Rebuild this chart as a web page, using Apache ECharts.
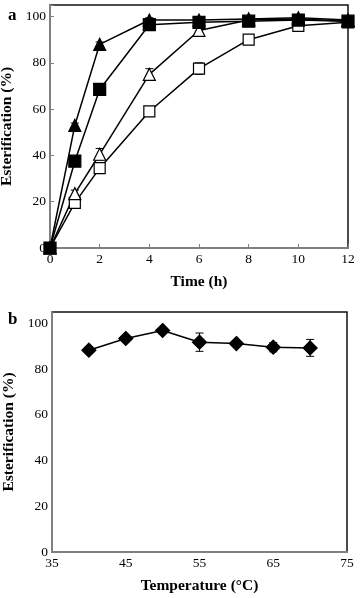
<!DOCTYPE html>
<html>
<head>
<meta charset="utf-8">
<script src="https://cdn.jsdelivr.net/npm/echarts@6/dist/echarts.min.js"></script>
<style>html,body{margin:0;padding:0;background:#fff;}#c{width:360px;height:598px;}</style>
</head>
<body>
<div id="c"></div>
<script>
// Panel a
var timeH = [0, 1, 2, 4, 6, 8, 10, 12];
var filledTri = [0, 53, 88, 98.5, 98.5, 99, 99.5, 98.5];
var filledTriErr = [0, 1, 1, 1, 1, 1, 1, 1];
var filledSq = [0, 37.5, 68.5, 96.5, 97.5, 98, 98.5, 98];
var filledSqErr = [0, 1, 1, 1, 1, 1, 1, 1];
var openTri = [0, 23.5, 40.5, 75, 94, 98.5, 99, 98];
var openTriErr = [0, 1.5, 2.5, 2.5, 1, 0.5, 0.5, 0.5];
var openSq = [0, 19.5, 34.5, 59, 77.5, 90, 96, 97.5];
var openSqErr = [0, 2, 1.5, 2, 2.5, 1.5, 1, 0.5];
// Panel b
var tempC = [40, 45, 50, 55, 60, 65, 70];
var esterB = [88.3, 93.4, 96.9, 91.8, 91.2, 89.6, 89.3];
var esterBErr = [1.5, 1, 1, 4, 1, 2, 3.7];

var FONT = "'Liberation Serif','Times New Roman',serif";

function pairs(xs, ys) { return xs.map(function (x, i) { return [x, ys[i]]; }); }
function errData(xs, ys, es) { return xs.map(function (x, i) { return [x, ys[i] - es[i], ys[i] + es[i]]; }); }

function errSeries(xi, yi, data) {
  return {
    type: 'custom', xAxisIndex: xi, yAxisIndex: yi, z: 1, silent: true,
    data: data,
    renderItem: function (params, api) {
      var x = api.value(0), lo = api.value(1), hi = api.value(2);
      var p1 = api.coord([x, lo]), p2 = api.coord([x, hi]);
      var w = 4;
      var st = { stroke: '#000', lineWidth: 1 };
      return { type: 'group', children: [
        { type: 'line', shape: { x1: p1[0], y1: p1[1], x2: p2[0], y2: p2[1] }, style: st },
        { type: 'line', shape: { x1: p1[0] - w, y1: p1[1], x2: p1[0] + w, y2: p1[1] }, style: st },
        { type: 'line', shape: { x1: p2[0] - w, y1: p2[1], x2: p2[0] + w, y2: p2[1] }, style: st }
      ] };
    }
  };
}

function lineSeries(xi, yi, data, symbol, size, fill) {
  return {
    type: 'line', xAxisIndex: xi, yAxisIndex: yi, z: 2,
    data: data, symbol: symbol, symbolSize: size, showAllSymbol: true,
    lineStyle: { color: '#000', width: 1.5 },
    itemStyle: { color: fill, borderColor: '#000', borderWidth: 1.2 },
    emphasis: { disabled: true }
  };
}

var yLabel = {
  fontFamily: FONT, fontSize: 13.5, color: '#000', margin: 4,
  formatter: function (v) { return v > 100 ? '' : String(v); }
};

var chart = echarts.init(document.getElementById('c'), null, { renderer: 'canvas' });
chart.setOption({
  animation: false,
  backgroundColor: '#fff',
  title: [
    { text: 'a', left: 3, top: 2, textStyle: { fontFamily: FONT, fontSize: 17, fontWeight: 'bold', color: '#000' } },
    { text: 'b', left: 3, top: 306, textStyle: { fontFamily: FONT, fontSize: 17, fontWeight: 'bold', color: '#000' } }
  ],
  grid: [
    { left: 50, right: 12, top: 5, bottom: 350, outerBoundsMode: 'none', containLabel: false, show: true, borderColor: '#111', borderWidth: 1.5, backgroundColor: 'transparent' },
    { left: 52, right: 13, top: 312, bottom: 46, outerBoundsMode: 'none', containLabel: false, show: true, borderColor: '#111', borderWidth: 1.5, backgroundColor: 'transparent' }
  ],
  xAxis: [
    {
      gridIndex: 0, type: 'value', min: 0, max: 12, interval: 2,
      name: 'Time (h)', nameLocation: 'middle', nameGap: 26,
      nameTextStyle: { fontFamily: FONT, fontSize: 15.5, fontWeight: 'bold', color: '#000' },
      axisLine: { lineStyle: { color: '#808080', width: 2 } },
      axisTick: { inside: true, length: 4, lineStyle: { color: '#808080', width: 1 } },
      axisLabel: { fontFamily: FONT, fontSize: 13.5, color: '#000', margin: 4 },
      splitLine: { show: false }
    },
    {
      gridIndex: 1, type: 'value', min: 35, max: 75, interval: 10,
      name: 'Temperature (\u00B0C)', nameLocation: 'middle', nameGap: 26,
      nameTextStyle: { fontFamily: FONT, fontSize: 15.5, fontWeight: 'bold', color: '#000' },
      axisLine: { lineStyle: { color: '#808080', width: 2 } },
      axisTick: { show: false },
      axisLabel: { fontFamily: FONT, fontSize: 13.5, color: '#000', margin: 4 },
      splitLine: { show: false }
    }
  ],
  yAxis: [
    {
      gridIndex: 0, type: 'value', min: 0, max: 105, interval: 20,
      name: 'Esterification (%)', nameLocation: 'middle', nameGap: 32,
      nameTextStyle: { fontFamily: FONT, fontSize: 15.5, fontWeight: 'bold', color: '#000' },
      axisLine: { show: true, lineStyle: { color: '#808080', width: 2 } },
      axisTick: { show: true, inside: true, length: 4, lineStyle: { color: '#808080', width: 1 } },
      axisLabel: yLabel,
      splitLine: { show: false }
    },
    {
      gridIndex: 1, type: 'value', min: 0, max: 105, interval: 20,
      name: 'Esterification (%)', nameLocation: 'middle', nameGap: 34,
      nameTextStyle: { fontFamily: FONT, fontSize: 15.5, fontWeight: 'bold', color: '#000' },
      axisLine: { show: true, lineStyle: { color: '#808080', width: 2 } },
      axisTick: { show: false },
      axisLabel: yLabel,
      splitLine: { show: false }
    }
  ],
  series: [
    errSeries(0, 0, errData(timeH, openSq, openSqErr)),
    errSeries(0, 0, errData(timeH, openTri, openTriErr)),
    errSeries(0, 0, errData(timeH, filledSq, filledSqErr)),
    errSeries(0, 0, errData(timeH, filledTri, filledTriErr)),
    lineSeries(0, 0, pairs(timeH, openSq), 'rect', 11, '#fff'),
    lineSeries(0, 0, pairs(timeH, openTri), 'triangle', 12, '#fff'),
    lineSeries(0, 0, pairs(timeH, filledSq), 'rect', 12, '#000'),
    lineSeries(0, 0, pairs(timeH, filledTri), 'triangle', 12, '#000'),
    errSeries(1, 1, errData(tempC, esterB, esterBErr)),
    lineSeries(1, 1, pairs(tempC, esterB), 'diamond', 14, '#000')
  ]
});
</script>
</body>
</html>
